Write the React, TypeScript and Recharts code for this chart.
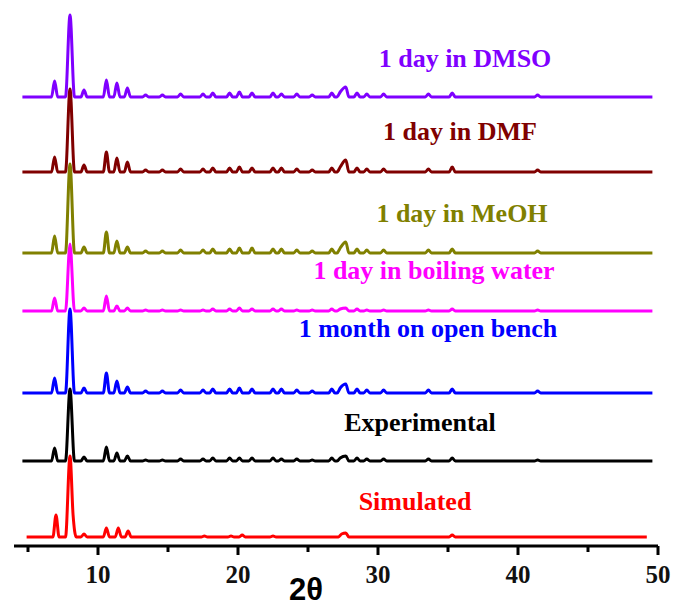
import { Line, LineChart, XAxis, YAxis } from "recharts";

// 2θ positions (deg) of reflections shared by the as-made and treated samples
const peakPositions = [
  6.9, 8.0, 9.0, 10.6, 11.35, 12.1, 13.4, 14.6, 15.9, 17.5, 18.2, 19.4, 20.1,
  21.0, 22.5, 23.1, 24.2, 25.3, 26.7, 27.3, 27.7, 28.5, 29.2, 30.4, 33.6, 35.3,
  41.4,
];

// peak intensities (a.u.), one list per sample, aligned with peakPositions
const dmsoHeights = [16, 82, 7, 17, 14, 9, 2, 2, 3, 3, 4, 4, 5, 4, 4, 3, 3, 2, 4, 5, 10, 4, 3, 3, 3, 4, 2];
const dmfHeights = [15, 83, 7, 20, 14, 10, 2, 2, 3, 3, 4, 4, 5, 4, 4, 4, 3, 2, 4, 5, 12, 4, 3, 3, 3, 5, 2];
const meohHeights = [17, 89, 6, 21, 12, 6, 2, 2, 3, 3, 4, 4, 5, 5, 4, 4, 3, 2, 4, 5, 11, 4, 3, 3, 3, 4, 2];
const waterHeights = [13, 67, 3, 15, 5, 3, 1, 1, 1, 1, 2, 2, 3, 2, 2, 2, 1, 1, 2, 2, 3, 2, 1, 1, 1, 2, 1];
const benchHeights = [15, 84, 5, 20, 12, 6, 2, 2, 3, 3, 4, 4, 5, 4, 4, 4, 3, 2, 4, 5, 9, 4, 3, 3, 3, 4, 2];
const experimentalHeights = [13, 72, 4, 14, 8, 5, 1, 1, 2, 2, 3, 3, 3, 3, 3, 2, 2, 1, 3, 3, 5, 3, 2, 2, 2, 3, 1];

// simulated pattern from the single-crystal structure
const simulatedPositions = [7.0, 8.0, 8.22, 9.0, 10.6, 11.45, 12.15, 17.6, 19.5, 20.3, 22.5, 27.4, 27.7, 35.3];
const simulatedHeights = [22, 81, 22, 3, 9, 9, 6, 1, 1, 2, 1, 3, 4, 2];

// vertical stacking offsets and scan ranges
const stackOffsets = [449, 374, 293, 235, 153, 85, 9];
const scanStart = [4.6, 4.6, 4.6, 4.6, 4.6, 4.6, 4.9];
const scanEnd = [49.6, 49.6, 49.6, 49.6, 49.6, 49.6, 49.2];

const sampleNames = [
  "1 day in DMSO",
  "1 day in DMF",
  "1 day in MeOH",
  "1 day in boiling water",
  "1 month on open bench",
  "Experimental",
  "Simulated",
];
const sampleColors = ["#7f00ff", "#800000", "#808000", "#ff00ff", "#0000ff", "#000000", "#ff0000"];

const xTicks = [5, 10, 15, 20, 25, 30, 35, 40, 45, 50];

// label anchors (centre x, baseline y)
const labelX = [465, 460, 462, 434, 428, 420, 415];
const labelY = [67, 140, 222, 279, 337, 431, 510];

type Pt = { x: number; y: number };

function buildTrace(positions: number[], heights: number[], offset: number, start: number, end: number): Pt[] {
  const halfWidth = heights.map((h) => (h > 40 ? 0.32 : 0.22));
  const pts: Pt[] = [{ x: start, y: offset }];
  const feet: Pt[] = [];
  positions.forEach((p, i) => {
    pts.push({ x: p, y: offset + heights[i] });
    [p - halfWidth[i], p + halfWidth[i]].forEach((f) => {
      // skip feet that fall inside a neighbouring reflection
      const inside = positions.some((q, j) => j !== i && Math.abs(f - q) < halfWidth[j]);
      if (!inside) feet.push({ x: f, y: offset });
    });
  });
  pts.push(...feet, { x: end, y: offset });
  return pts.sort((a, b) => a.x - b.x);
}

const traces = [
  buildTrace(peakPositions, dmsoHeights, stackOffsets[0], scanStart[0], scanEnd[0]),
  buildTrace(peakPositions, dmfHeights, stackOffsets[1], scanStart[1], scanEnd[1]),
  buildTrace(peakPositions, meohHeights, stackOffsets[2], scanStart[2], scanEnd[2]),
  buildTrace(peakPositions, waterHeights, stackOffsets[3], scanStart[3], scanEnd[3]),
  buildTrace(peakPositions, benchHeights, stackOffsets[4], scanStart[4], scanEnd[4]),
  buildTrace(peakPositions, experimentalHeights, stackOffsets[5], scanStart[5], scanEnd[5]),
  buildTrace(simulatedPositions, simulatedHeights, stackOffsets[6], scanStart[6], scanEnd[6]),
];

function AxisTick({ x, y, payload }: { x?: number; y?: number; payload?: { value: number } }) {
  if (x == null || y == null || !payload) return null;
  const major = payload.value % 10 === 0;
  return (
    <g>
      <line x1={x} x2={x} y1={y} y2={y + (major ? 9 : 6)} stroke="#000" strokeWidth={3} />
      {major && (
        <text
          x={x}
          y={y + 37}
          textAnchor="middle"
          fontFamily="'Liberation Serif', serif"
          fontWeight="bold"
          fontSize={25}
          fill="#111"
        >
          {payload.value}
        </text>
      )}
    </g>
  );
}

export default function App() {
  return (
    <div style={{ position: "absolute", left: 0, top: 0, width: 674, height: 608, background: "#fff" }}>
      <LineChart width={674} height={608} margin={{ top: 10, right: 16, bottom: 0, left: 14 }}>
        <XAxis
          dataKey="x"
          type="number"
          domain={[4, 50]}
          ticks={xTicks}
          allowDataOverflow
          height={62}
          tickSize={0}
          tickMargin={0}
          tickLine={false}
          axisLine={{ stroke: "#000", strokeWidth: 3 }}
          tick={<AxisTick />}
        />
        <YAxis hide type="number" domain={[0, 536]} allowDataOverflow />
        {traces.map((data, i) => (
          <Line
            key={sampleNames[i]}
            data={data}
            dataKey="y"
            type="monotone"
            stroke={sampleColors[i]}
            strokeWidth={3}
            dot={false}
            activeDot={false}
            isAnimationActive={false}
          />
        ))}
      </LineChart>
      <svg
        width={674}
        height={608}
        style={{ position: "absolute", left: 0, top: 0, pointerEvents: "none" }}
      >
        {sampleNames.map((name, i) => (
          <text
            key={name}
            x={labelX[i]}
            y={labelY[i]}
            textAnchor="middle"
            fontFamily="'Liberation Serif', serif"
            fontWeight="bold"
            fontSize={26}
            fill={sampleColors[i]}
          >
            {name}
          </text>
        ))}
        <text
          x={306}
          y={600}
          textAnchor="middle"
          fontFamily="'Liberation Sans', Arial, sans-serif"
          fontWeight="bold"
          fontSize={31}
          fill="#000"
        >
          2θ
        </text>
      </svg>
    </div>
  );
}
